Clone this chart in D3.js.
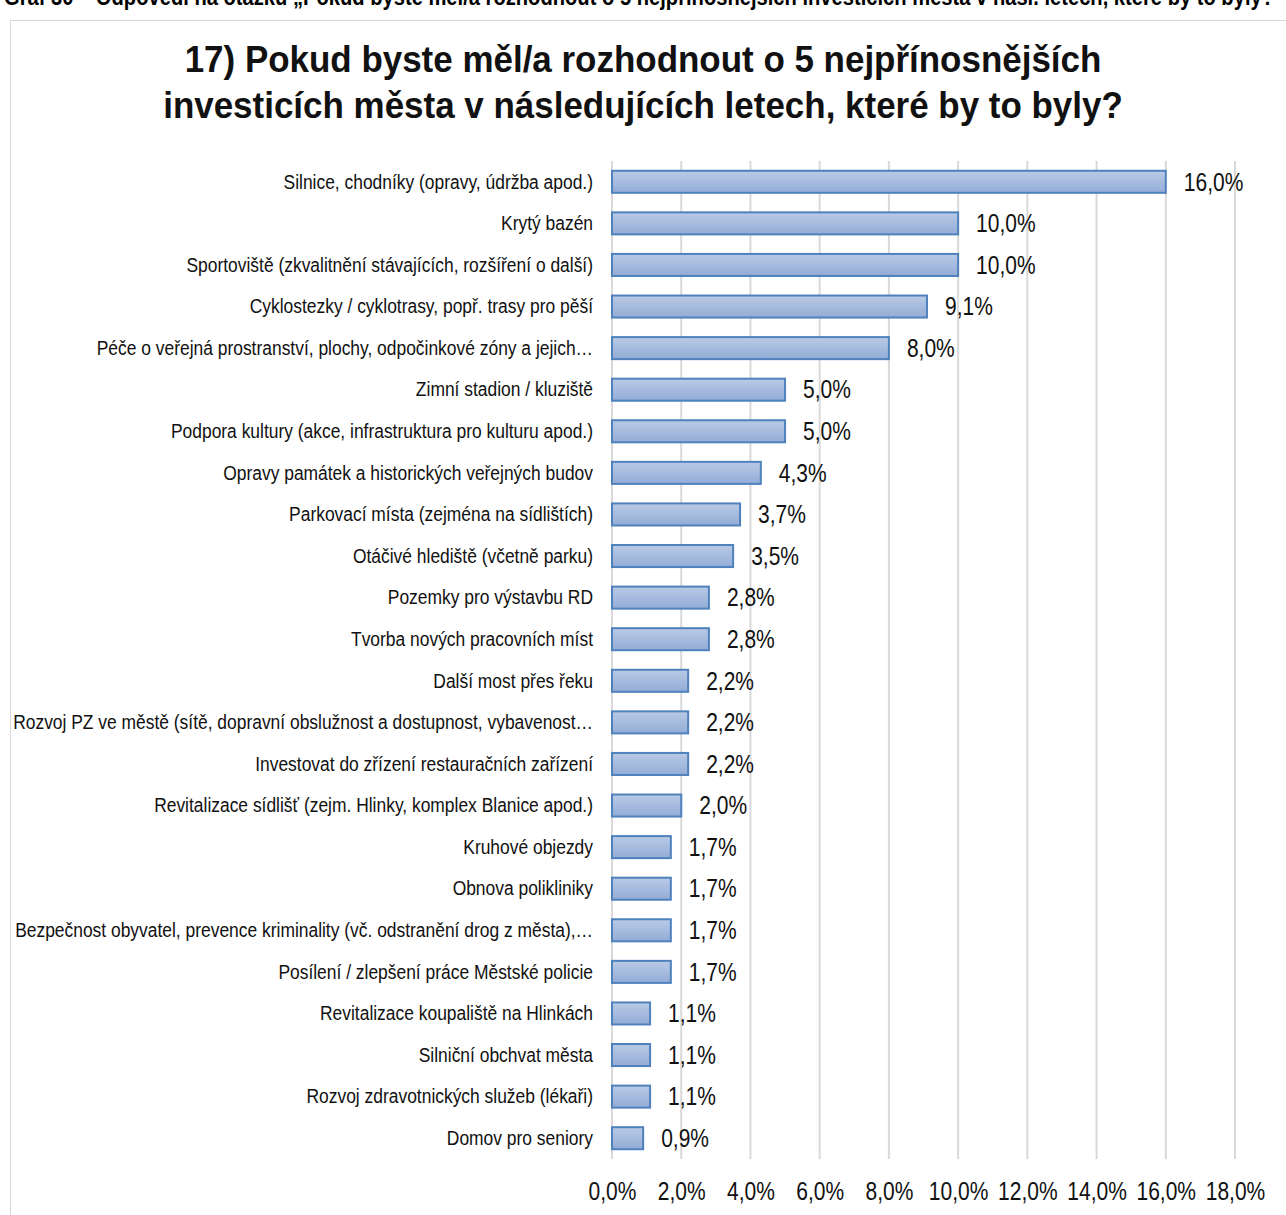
<!DOCTYPE html>
<html>
<head>
<meta charset="utf-8">
<script src="https://cdn.jsdelivr.net/npm/d3@7"></script>
<style>
  body { margin: 0; background: #fff; }
  text { font-family: "Liberation Sans", Arial, sans-serif; }
</style>
</head>
<body>
<div id="chart"></div>
<script>

// categories, top to bottom
var categories = [
  "Silnice, chodníky (opravy, údržba apod.)",
  "Krytý bazén",
  "Sportoviště (zkvalitnění stávajících, rozšíření o další)",
  "Cyklostezky / cyklotrasy, popř. trasy pro pěší",
  "Péče o veřejná prostranství, plochy, odpočinkové zóny a jejich…",
  "Zimní stadion / kluziště",
  "Podpora kultury (akce, infrastruktura pro kulturu apod.)",
  "Opravy památek a historických veřejných budov",
  "Parkovací místa (zejména na sídlištích)",
  "Otáčivé hlediště (včetně parku)",
  "Pozemky pro výstavbu RD",
  "Tvorba nových pracovních míst",
  "Další most přes řeku",
  "Rozvoj PZ ve městě (sítě, dopravní obslužnost a dostupnost, vybavenost…",
  "Investovat do zřízení restauračních zařízení",
  "Revitalizace sídlišť (zejm. Hlinky, komplex Blanice apod.)",
  "Kruhové objezdy",
  "Obnova polikliniky",
  "Bezpečnost obyvatel, prevence kriminality (vč. odstranění drog z města),…",
  "Posílení / zlepšení práce Městské policie",
  "Revitalizace koupaliště na Hlinkách",
  "Silniční obchvat města",
  "Rozvoj zdravotnických služeb (lékaři)",
  "Domov pro seniory"
];

// share of answers in %
var values = [16.0, 10.0, 10.0, 9.1, 8.0, 5.0, 5.0, 4.3, 3.7, 3.5, 2.8, 2.8,
              2.2, 2.2, 2.2, 2.0, 1.7, 1.7, 1.7, 1.7, 1.1, 1.1, 1.1, 0.9];

// x axis ticks
var tickValues = [0, 2, 4, 6, 8, 10, 12, 14, 16, 18];

var titleLines = [
  "17) Pokud byste měl/a rozhodnout o 5 nejpřínosnějších",
  "investicích města v následujících letech, které by to byly?"
];
var caption = "Graf 30 – Odpovědi na otázku „Pokud byste měl/a rozhodnout o 5 nejpřínosnějších investicích města v násl. letech, které by to byly?“";

var W = 1286, H = 1215;
var plot = {left: 612, right: 1235, top: 161, bottom: 1159};
var narrow = 0.84; // no narrow font installed, squeeze text instead

var data = categories.map(function(c, i) { return {cat: c, val: values[i]}; });

var fmt = function(v) { return d3.format(".1f")(v).replace(".", ",") + "%"; };

var svg = d3.select("#chart")
  .append("svg")
    .attr("width", W)
    .attr("height", H);

// bar gradient
var grad = svg.append("defs").append("linearGradient")
    .attr("id", "barGrad")
    .attr("x1", 0).attr("y1", 0).attr("x2", 0).attr("y2", 1);
grad.append("stop").attr("offset", "0%").attr("stop-color", "#b9cae6");
grad.append("stop").attr("offset", "100%").attr("stop-color", "#93acd6");

// caption above the chart box (cut off at top)
svg.append("text")
  .attr("transform", "translate(4,5) scale(" + narrow + ",1)")
  .style("font-size", "24px")
  .style("font-weight", "bold")
  .text(caption);

// chart frame
svg.append("rect")
  .attr("x", 10.5)
  .attr("y", 20.5)
  .attr("width", W + 20)
  .attr("height", H + 20)
  .attr("fill", "none")
  .attr("stroke", "#d9d9d9")
  .attr("stroke-width", 1);

// title
svg.append("g")
  .selectAll("text")
  .data(titleLines)
  .enter()
  .append("text")
    .attr("transform", function(d, i) { return "translate(643," + (72 + i * 46) + ") scale(0.945,1)"; })
    .attr("text-anchor", "middle")
    .style("font-size", "37px")
    .style("font-weight", "bold")
    .style("fill", "#111")
    .text(function(d) { return d; });

var x = d3.scaleLinear()
  .domain([0, 18])
  .range([plot.left, plot.right]);

var y = d3.scaleBand()
  .domain(categories)
  .range([plot.top, plot.bottom])
  .paddingInner(0.47)
  .paddingOuter(0.235);

// gridlines
svg.append("g")
  .selectAll("line")
  .data(tickValues)
  .enter()
  .append("line")
    .attr("x1", function(d) { return x(d); })
    .attr("x2", function(d) { return x(d); })
    .attr("y1", plot.top)
    .attr("y2", plot.bottom)
    .attr("stroke", "#d9d9d9")
    .attr("stroke-width", 2);

// x axis labels
var xAxis = svg.append("g")
  .attr("transform", "translate(0," + (plot.bottom + 23) + ")")
  .call(d3.axisBottom(x).tickValues(tickValues).tickSize(0).tickPadding(0).tickFormat(fmt));
xAxis.select(".domain").remove();
xAxis.selectAll("text")
  .attr("dy", "0.71em")
  .attr("transform", "scale(" + narrow + ",1)")
  .style("font-size", "25px")
  .style("fill", "#111");

// category labels
var yAxis = svg.append("g")
  .attr("transform", "translate(" + (plot.left - 19) + ",0)")
  .call(d3.axisLeft(y).tickSize(0).tickPadding(0));
yAxis.select(".domain").remove();
yAxis.selectAll("text")
  .attr("transform", "scale(0.83,1)")
  .style("font-size", "21px")
  .style("fill", "#111");

// bars
svg.append("g")
  .selectAll("rect")
  .data(data)
  .enter()
  .append("rect")
    .attr("x", x(0))
    .attr("y", function(d) { return y(d.cat); })
    .attr("width", function(d) { return x(d.val) - x(0); })
    .attr("height", y.bandwidth())
    .attr("fill", "url(#barGrad)")
    .attr("stroke", "#4f81bd")
    .attr("stroke-width", 2);

// value labels
svg.append("g")
  .selectAll("text")
  .data(data)
  .enter()
  .append("text")
    .attr("transform", function(d) {
      return "translate(" + (x(d.val) + 18) + "," + (y(d.cat) + y.bandwidth() / 2) + ") scale(" + narrow + ",1)";
    })
    .attr("dy", "0.35em")
    .style("font-size", "25px")
    .style("fill", "#111")
    .text(function(d) { return fmt(d.val); });

</script>
</body>
</html>
